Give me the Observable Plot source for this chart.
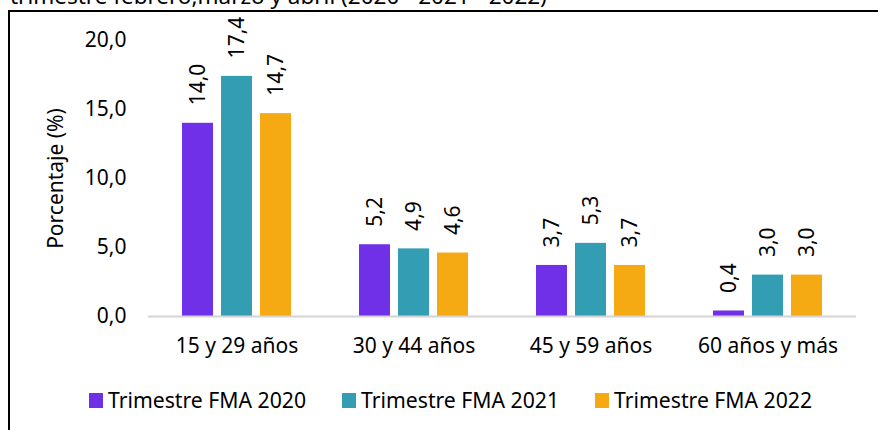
<!DOCTYPE html>
<html>
<head>
<meta charset="utf-8">
<script src="https://cdn.jsdelivr.net/npm/d3@7"></script>
<script src="https://cdn.jsdelivr.net/npm/@observablehq/plot@0.6"></script>
<style>
  html, body { margin: 0; padding: 0; background: #fff; }
  body { width: 878px; height: 430px; position: relative; overflow: hidden; font-family: "Noto Sans", "Open Sans", sans-serif; color: #000; }
  #title { position: absolute; left: 10px; top: -15px; font-size: 22.5px; line-height: 22px; white-space: nowrap; }
  #box { position: absolute; left: 8px; top: 9.5px; width: 1000px; height: 600px; border: 2.5px solid #000; box-sizing: border-box; }
  #chart { position: absolute; left: 0; top: 0; }
  #chart g[aria-label="y-axis label"] text, #chart g[aria-label="y-axis label"] { font-size: 21px; }
  #legend { position: absolute; left: 89px; top: 388px; display: flex; gap: 36px; font-size: 21.2px; line-height: 24px; }
  #legend .item { display: flex; align-items: center; }
  #legend .sw { width: 14px; height: 15px; margin-right: 5px; }
</style>
</head>
<body>
<div id="title">trimestre febrero,marzo y abril (2020 - 2021 - 2022)</div>
<div id="box"></div>
<div id="chart"></div>
<div id="legend"></div>
<script>
const categories = ["15 y 29 años", "30 y 44 años", "45 y 59 años", "60 años y más"];
const series = ["Trimestre FMA 2020", "Trimestre FMA 2021", "Trimestre FMA 2022"];
const values2020 = [14.0, 5.2, 3.7, 0.4];
const values2021 = [17.4, 4.9, 5.3, 3.0];
const values2022 = [14.7, 4.6, 3.7, 3.0];
const colors = ["#7030E8", "#339DB4", "#F5AA14"];
const yTicks = [0, 5, 10, 15, 20];

const fmt = v => v.toFixed(1).replace(".", ",");

const allValues = [values2020, values2021, values2022];
const data = [];
categories.forEach((c, i) => {
  series.forEach((s, j) => {
    data.push({category: c, series: s, value: allValues[j][i]});
  });
});

const plot = Plot.plot({
  width: 878,
  height: 430,
  marginLeft: 147,
  marginRight: 21,
  marginTop: 40,
  marginBottom: 114,
  style: {fontFamily: "'Noto Sans', 'Open Sans', sans-serif", fontSize: "21px", color: "#000", background: "transparent", overflow: "visible"},
  fx: {domain: categories, padding: 0, label: null, tickSize: 0, tickPadding: 22, fontSize: 21},
  x: {domain: series, paddingInner: 0.2, paddingOuter: 0.85, axis: null},
  y: {domain: [0, 20], ticks: yTicks, tickFormat: fmt, tickSize: 0, tickPadding: 22, fontSize: 21,
      label: "Porcentaje (%)", labelAnchor: "center", labelOffset: 100, labelArrow: "none"},
  color: {domain: series, range: colors},
  marks: [
    Plot.barY(data, {fx: "category", x: "series", y: "value", fill: "series"}),
    Plot.ruleY([0], {stroke: "#d4d4d4", strokeWidth: 2}),
    Plot.text(data, {fx: "category", x: "series", y: "value", text: d => fmt(d.value),
      rotate: -90, textAnchor: "start", dy: -18, fontSize: 21, fill: "#000"})
  ]
});
document.getElementById("chart").appendChild(plot);

const legend = document.getElementById("legend");
series.forEach((s, j) => {
  const item = document.createElement("div");
  item.className = "item";
  const sw = document.createElement("span");
  sw.className = "sw";
  sw.style.background = colors[j];
  const t = document.createElement("span");
  t.textContent = s;
  item.appendChild(sw);
  item.appendChild(t);
  legend.appendChild(item);
});
</script>
</body>
</html>
